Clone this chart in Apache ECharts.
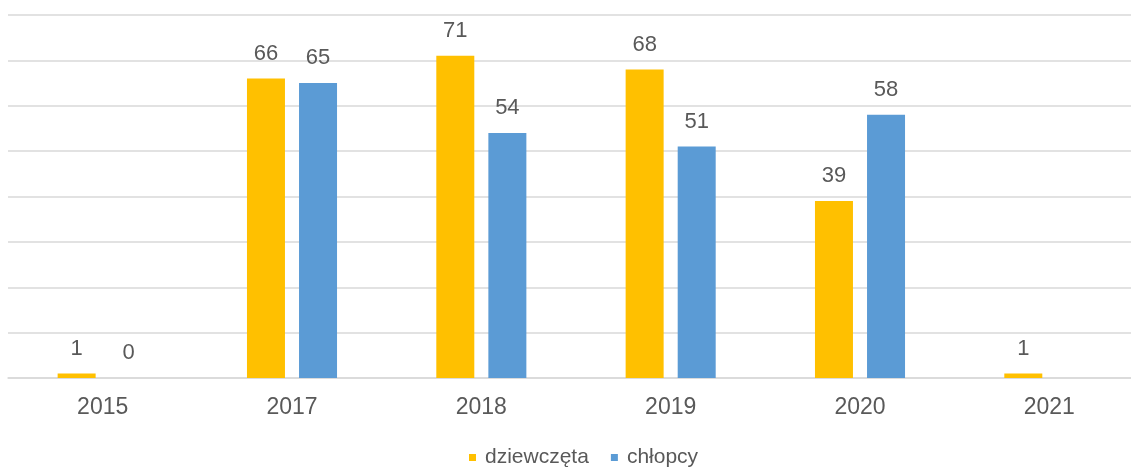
<!DOCTYPE html>
<html>
<head>
<meta charset="utf-8">
<script src="https://cdn.jsdelivr.net/npm/echarts@6/dist/echarts.min.js"></script>
<style>
	html, body { margin: 0; padding: 0; background: #ffffff; overflow: hidden; }
	#main { width: 1160px; height: 469px; }
</style>
</head>
<body>
<div id="main"></div>
<script>
// lata i wartosci
var years = ['2015', '2017', '2018', '2019', '2020', '2021'];
var dziewczeta = [1, 66, 71, 68, 39, 1];
var chlopcy = [0, 65, 54, 51, 58, null];
var seriesNames = ['dziewczęta', 'chłopcy'];

var fontName = '"Liberation Sans", Arial, sans-serif';
var textColor = '#595959';

function barSeries(name, data, color) {
	return {
		name : name,
		type : 'bar',
		data : data,
		barWidth : 38,
		barGap : '37%',
		itemStyle : {
			color : color
		},
		label : {
			show : true,
			position : 'top',
			distance : 14,
			color : textColor,
			fontSize : 22,
			fontFamily : fontName
		}
	};
}

// kontener szerszy niz okno - wykres oryginalny jest przyciety z prawej
var myChart = echarts.init(document.getElementById('main'));
var option = {
	animation : false,
	backgroundColor : '#ffffff',
	grid : {
		left : 8,
		right : 16,
		top : 15,
		bottom : 91,
		containLabel : false
	},
	legend : {
		data : seriesNames,
		top : 442,
		left : 464,
		icon : 'rect',
		itemWidth : 7,
		itemHeight : 7,
		itemGap : 22,
		textStyle : {
			color : textColor,
			fontSize : 21,
			fontFamily : fontName,
			padding : [0, 0, 0, 4]
		}
	},
	xAxis : {
		type : 'category',
		data : years,
		axisLine : {
			show : true,
			lineStyle : {
				color : '#d9d9d9',
				width : 1.5
			}
		},
		axisTick : {
			show : false
		},
		axisLabel : {
			color : textColor,
			fontSize : 23,
			fontFamily : fontName,
			margin : 18
		}
	},
	yAxis : {
		type : 'value',
		min : 0,
		max : 80,
		interval : 10,
		axisLabel : {
			show : false
		},
		axisLine : {
			show : false
		},
		axisTick : {
			show : false
		},
		splitLine : {
			lineStyle : {
				color : '#d9d9d9',
				width : 1.5
			}
		}
	},
	series : [
		barSeries(seriesNames[0], dziewczeta, '#FFC000'),
		barSeries(seriesNames[1], chlopcy, '#5B9BD5')
	]
};
myChart.setOption(option);
</script>
</body>
</html>
